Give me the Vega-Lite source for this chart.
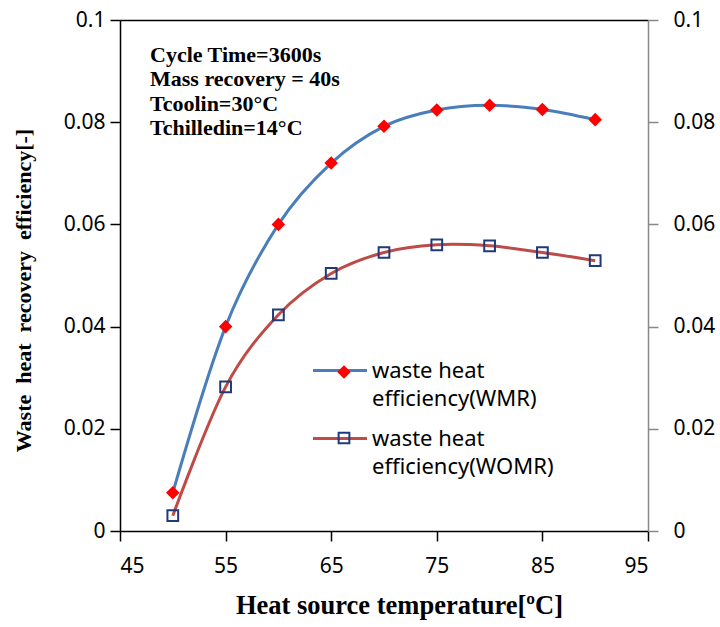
{
  "$schema": "https://vega.github.io/schema/vega-lite/v6.json",
  "width": 528,
  "height": 511,
  "autosize": {"type": "none"},
  "padding": {"left": 120, "top": 20, "right": 72, "bottom": 96},
  "background": "white",
  "config": {
    "view": {"stroke": null},
    "axis": {"grid": false, "labelFont": "Noto Sans", "labelFontSize": 21, "labelColor": "black", "titleColor": "black"}
  },
  "data": {
    "values": [
      {"series": "WMR", "temp": 50, "eff": 0.0075},
      {"series": "WMR", "temp": 55, "eff": 0.0400},
      {"series": "WMR", "temp": 60, "eff": 0.0600},
      {"series": "WMR", "temp": 65, "eff": 0.0720},
      {"series": "WMR", "temp": 70, "eff": 0.0792},
      {"series": "WMR", "temp": 75, "eff": 0.0824},
      {"series": "WMR", "temp": 80, "eff": 0.0833},
      {"series": "WMR", "temp": 85, "eff": 0.0825},
      {"series": "WMR", "temp": 90, "eff": 0.0805},
      {"series": "WOMR", "temp": 50, "eff": 0.0030},
      {"series": "WOMR", "temp": 55, "eff": 0.0282},
      {"series": "WOMR", "temp": 60, "eff": 0.0423},
      {"series": "WOMR", "temp": 65, "eff": 0.0504},
      {"series": "WOMR", "temp": 70, "eff": 0.0545},
      {"series": "WOMR", "temp": 75, "eff": 0.0560},
      {"series": "WOMR", "temp": 80, "eff": 0.0558},
      {"series": "WOMR", "temp": 85, "eff": 0.0545},
      {"series": "WOMR", "temp": 90, "eff": 0.0529}
    ]
  },
  "layer": [
    {
      "mark": {"type": "line", "interpolate": "cardinal", "strokeWidth": 3},
      "encoding": {
        "x": {
          "field": "temp", "type": "quantitative",
          "scale": {"domain": [45, 95], "nice": false, "zero": false},
          "axis": {
            "orient": "bottom", "values": [45, 55, 65, 75, 85, 95],
            "domainColor": "black", "domainWidth": 1.5, "tickColor": "black", "tickWidth": 1.5, "tickSize": 10,
            "labelPadding": 14,
            "title": "Heat source temperature[ºC]", "titleFont": "Liberation Serif", "titleFontSize": 26.5, "titleFontWeight": "bold", "titlePadding": 16, "titleX": 279
          }
        },
        "y": {
          "field": "eff", "type": "quantitative",
          "scale": {"domain": [0, 0.1], "nice": false},
          "axis": {
            "orient": "left", "values": [0, 0.02, 0.04, 0.06, 0.08, 0.1], "format": "~g",
            "domainColor": "black", "domainWidth": 1.5, "tickColor": "black", "tickWidth": 1.5, "tickSize": 10,
            "labelPadding": 5,
            "title": "Waste \u00a0heat \u00a0recovery \u00a0efficiency[-]", "titleFont": "Liberation Serif", "titleFontSize": 22, "titleFontWeight": "bold", "titlePadding": 28, "titleY": 270
          }
        },
        "color": {
          "field": "series", "type": "nominal",
          "scale": {"domain": ["WMR", "WOMR"], "range": ["#4A7EBB", "#BE4B48"]},
          "legend": {
            "orient": "none", "legendX": 191.5, "legendY": 322, "title": null, "padding": 0,
            "symbolType": "stroke", "symbolSize": 2916, "symbolStrokeWidth": 3, "symbolOffset": 0,
            "labelFont": "Noto Sans", "labelFontSize": 22, "labelColor": "black", "labelOffset": 3.5, "labelLimit": 400,
            "labelExpr": "datum.label == 'WMR' ? ['waste heat', 'efficiency(WMR)'] : ['waste heat', 'efficiency(WOMR)']",
            "rowPadding": 0,
            "encode": {"labels": {"update": {"lineHeight": {"value": 28}}}}
          }
        }
      }
    },
    {
      "mark": {"type": "point", "size": 115, "strokeWidth": 2, "opacity": 1},
      "encoding": {
        "x": {"field": "temp", "type": "quantitative", "axis": {"orient": "top", "labels": false, "ticks": false, "domainColor": "black", "domainWidth": 1.5, "title": null}},
        "y": {
          "field": "eff", "type": "quantitative",
          "axis": {
            "orient": "right", "values": [0, 0.02, 0.04, 0.06, 0.08, 0.1], "format": "~g",
            "domainColor": "#888888", "domainWidth": 1.5, "tickColor": "#888888", "tickWidth": 1.5, "tickSize": 10,
            "labelPadding": 15, "title": null
          }
        },
        "shape": {
          "field": "series", "type": "nominal",
          "scale": {"range": ["diamond", "square"]},
          "legend": {"orient": "none", "legendX": 213, "legendY": 341, "title": null, "padding": 0, "symbolStrokeWidth": 2, "symbolSize": 115,
            "labelFont": "Noto Sans", "labelFontSize": 22, "labelOpacity": 0, "labelLimit": 400,
            "labelExpr": "[' ', ' ']", "rowPadding": 20,
            "encode": {"labels": {"update": {"lineHeight": {"value": 32}}}}}
        },
        "fill": {
          "field": "series", "type": "nominal",
          "scale": {"range": ["#FF0000", "transparent"]},
          "legend": {"orient": "none", "legendX": 213, "legendY": 341, "title": null, "padding": 0, "symbolStrokeWidth": 2, "symbolSize": 115,
            "labelFont": "Noto Sans", "labelFontSize": 22, "labelOpacity": 0, "labelLimit": 400,
            "labelExpr": "[' ', ' ']", "rowPadding": 20,
            "encode": {"labels": {"update": {"lineHeight": {"value": 32}}}}}
        },
        "stroke": {
          "field": "series", "type": "nominal",
          "scale": {"range": ["#FF0000", "#1F3A7A"]},
          "legend": {"orient": "none", "legendX": 213, "legendY": 341, "title": null, "padding": 0, "symbolStrokeWidth": 2, "symbolSize": 115,
            "labelFont": "Noto Sans", "labelFontSize": 22, "labelOpacity": 0, "labelLimit": 400,
            "labelExpr": "[' ', ' ']", "rowPadding": 20,
            "encode": {"labels": {"update": {"lineHeight": {"value": 32}}}}}
        }
      }
    },
    {
      "data": {"values": [{"note": ["Cycle Time=3600s", "Mass recovery = 40s", "Tcoolin=30°C", "Tchilledin=14°C"]}]},
      "mark": {"type": "text", "align": "left", "baseline": "alphabetic", "font": "Liberation Serif", "fontSize": 22, "fontWeight": "bold", "lineHeight": 24.5, "color": "black"},
      "encoding": {
        "x": {"datum": 47.84, "type": "quantitative", "axis": null},
        "y": {"datum": 0.0918, "type": "quantitative", "axis": null},
        "text": {"field": "note"}
      }
    }
  ],
  "resolve": {"axis": {"x": "independent", "y": "independent"}}
}
